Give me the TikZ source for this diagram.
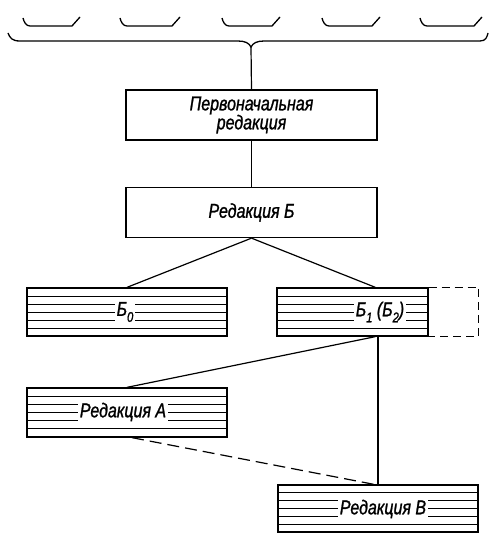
\documentclass[tikz,border=0pt]{standalone}
\usepackage{fontspec}
\setmainfont[FakeStretch=0.8,FakeBold=1.2]{Liberation Sans}
\usetikzlibrary{calc}
\newcommand\sbs[1]{\raisebox{-0.3em}{\fontsize{14}{14}\selectfont #1}}
\begin{document}
\begin{tikzpicture}[x=1pt,y=-1pt,
  txt/.style={font=\fontsize{20}{19}\selectfont\itshape},
  plain/.style={draw, line width=1.3pt, minimum width=251pt, minimum height=50pt, inner sep=0pt, align=center, txt},
  hbox/.style={draw, line width=1.3pt, inner sep=0pt,
    path picture={\foreach \f in {1,...,5}{\draw[line width=0.8pt]
      ($(path picture bounding box.north west)!\f/6!(path picture bounding box.south west)$) --
      ($(path picture bounding box.north east)!\f/6!(path picture bounding box.south east)$);}}},
  lab/.style={fill=white, inner xsep=2pt, inner ysep=1pt, txt},
  conn/.style={line width=1.2pt},
  dconn/.style={line width=1.2pt, dash pattern=on 12pt off 6pt},
  ext/.style={line width=1.1pt, dash pattern=on 8pt off 5pt},
  brk/.style={line width=1.3pt}
]
\useasboundingbox (0,0) rectangle (490,535);

% small brackets at the top
\foreach \a/\b in {23/80,120/180,222/280,322/380,420/482}{
  \draw[brk] (\a,18) .. controls (\a+1,22) and (\a+3,26) .. (\a+7,26) -- (\b-8,26) -- (\b,17);
}
% large brace
\coordinate (bt) at (251,47);
\draw[brk] (8,33) .. controls (10,38) and (12,41) .. (20,41) -- (238,41)
  .. controls (245,41) and (249,43) .. (bt)
  .. controls (253,43) and (257,41) .. (264,41) -- (480,41)
  .. controls (486,41) and (487,37) .. (488,33);

% boxes
\node[plain] (p) at (251.5,115) {Первоначальная\\редакция};
\node[plain] (rb) at (251.5,212.5) {Редакция Б};
\node[hbox, minimum width=200pt, minimum height=48pt] (b0) at (127,312) {};
\node[hbox, minimum width=151pt, minimum height=48pt] (b1) at (352.5,312) {};
\node[hbox, minimum width=200pt, minimum height=49pt] (ra) at (127,412.5) {};
\node[hbox, minimum width=200pt, minimum height=47pt] (rv) at (378,508.5) {};

% labels
\node[lab] (b0t) at (125,312) {Б\sbs{0}};
\node[lab] (b1t) at (380,312) {Б\sbs{1} (Б\sbs{2})};
\node[lab] (rat) at (123,412) {Редакция А};
\node[lab] (rvt) at (383,509) {Редакция В};

% dashed extension of B1
\draw[ext] (b1.north east) -- ($(b1.north east)+(50,0)$) -- ($(b1.south east)+(50,0)$) -- (b1.south east);

% connectors
\draw[conn] (bt) -- (p.north);
\draw[conn] (p.south) -- (rb.north);
\draw[conn] (rb.south) -- (b0.north);
\draw[conn] (rb.south) -- ($(b1.north west)!0.65!(b1.north east)$);
\draw[conn] ($(b1.south west)!0.65!(b1.south east)$) -- (ra.north);
\draw[conn] (rv.north |- b1.south) -- (rv.north);
\draw[dconn] ([xshift=5pt]ra.south) -- ([xshift=-4pt]rv.north);
\end{tikzpicture}
\end{document}
